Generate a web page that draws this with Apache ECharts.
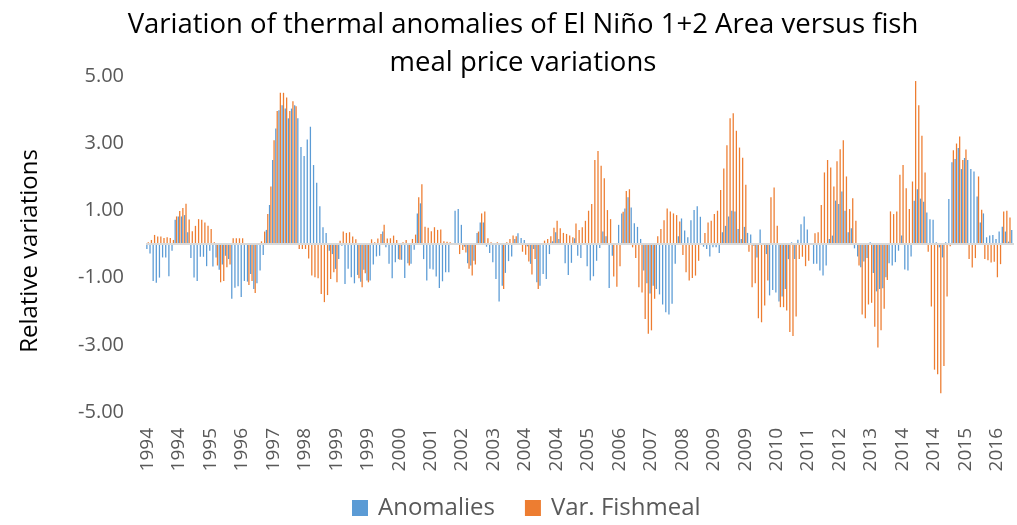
<!DOCTYPE html>
<html>
<head>
<meta charset="utf-8">
<script src="https://cdn.jsdelivr.net/npm/echarts@6/dist/echarts.min.js"></script>
<style>
  html, body { margin: 0; padding: 0; background: #fff; }
  #chart { width: 1017px; height: 525px; }
</style>
</head>
<body>
<div id="chart"></div>
<script>
// monthly data, Jan 1994 - Dec 2016
var startYear = 1994;
var monthCount = 276;

var anomalies = [
  -0.15,-0.28,-1.1,-1.15,-1.0,-0.4,-0.4,-0.96,-0.2,0.72,
  0.82,0.82,0.86,0.35,-0.42,-1.0,-1.1,-0.38,-0.38,-0.66,
  -0.2,-0.67,-0.4,-0.77,-0.61,-0.35,-0.45,-1.63,-1.3,-1.26,
  -1.58,-1.1,-1.12,-0.89,-1.34,-1.17,-0.79,-0.33,0.42,1.16,
  2.5,3.44,3.98,4.13,4.03,3.74,4.03,4.13,3.74,2.89,
  2.62,3.11,3.49,2.35,1.82,1.12,0.5,0.33,-0.2,-0.3,
  -0.74,-0.45,-0.05,-1.19,-0.74,-0.99,-1.17,-0.92,-1.12,-0.77,
  -1.09,-1.09,-0.61,-0.37,-0.35,0.37,-0.1,-0.59,-1.02,-0.54,
  -0.45,-0.47,-1.01,-0.57,-0.59,-0.17,0.91,1.21,-0.45,-1.09,
  -0.74,-0.76,-0.97,-1.31,-1.11,-0.84,-0.84,0.0,0.99,1.04,
  0.57,-0.08,-0.57,-0.64,-0.5,0.33,0.64,0.64,-0.08,-0.27,
  -0.54,-1.04,-1.71,-1.24,-0.86,-0.51,-0.37,0.15,0.32,0.18,
  0.12,-0.07,-0.59,-0.15,-1.14,-1.24,-0.89,-1.04,-0.3,0.08,
  0.35,0.15,-0.02,-0.57,-0.92,-0.56,0.17,-0.35,-0.42,0.0,
  -0.66,-1.09,-0.96,-0.5,-0.12,0.37,0.23,-1.31,-0.35,-0.02,
  0.57,0.91,1.06,1.39,1.09,0.62,0.51,0.15,-0.79,-1.17,
  -1.47,-1.24,-1.34,-1.5,-1.8,-2.03,-2.1,-1.78,-0.59,0.23,
  0.76,0.4,0.2,0.71,1.01,1.12,0.81,-0.08,-0.15,-0.37,
  -0.1,-0.1,-0.27,0.35,0.54,0.82,0.99,0.97,0.45,0.15,
  0.51,0.33,0.28,-0.05,-0.4,0.43,0.0,-0.3,-1.53,-1.37,
  -1.44,-1.71,-1.56,-1.34,-0.45,0.05,-0.45,0.13,0.59,0.82,
  0.43,0.0,-0.59,-0.59,-0.79,-0.94,-0.64,0.15,0.25,1.29,
  1.19,1.56,0.99,0.35,0.47,-0.13,-0.37,-0.69,-0.52,-0.42,
  0.05,-0.86,-1.41,-1.34,-1.32,-0.99,-0.57,-0.64,-0.54,-0.2,
  0.25,-0.76,-0.79,-0.37,1.29,1.63,1.35,1.26,0.94,0.74,
  0.72,0.05,-0.1,-0.4,0.05,1.34,2.43,2.53,2.86,2.23,
  2.56,2.5,2.23,2.16,1.41,0.64,0.91,0.2,0.25,0.27,
  0.15,0.37,0.51,0.37,0.07,0.42
];

var fishmeal = [
  0.05,0.12,0.27,0.22,0.22,0.18,0.2,0.18,0.12,0.82,
  0.98,1.07,1.2,0.73,0.38,0.54,0.74,0.72,0.64,0.54,
  0.45,0.05,-0.64,-1.14,-1.1,-0.69,-0.61,0.17,0.17,0.17,
  0.17,0.0,-1.22,-1.1,-1.46,0.0,0.08,0.37,0.89,1.71,
  3.09,3.96,4.5,4.5,4.36,3.96,4.25,4.1,-0.15,-0.15,
  -0.15,-0.43,-0.94,-0.99,-1.02,-1.49,-1.73,-1.52,-1.04,-0.84,
  -1.14,0.1,0.37,0.33,0.35,0.22,0.14,-1.02,-1.29,-0.87,
  -1.14,0.14,0.05,0.16,0.3,0.57,0.16,0.17,0.25,0.12,
  -0.47,0.05,0.12,-0.64,0.15,0.28,1.39,1.78,0.51,0.48,
  0.38,0.5,0.42,0.43,0.08,0.07,0.05,0.0,0.0,-0.3,
  -0.18,-0.25,-0.74,-0.94,-0.61,0.37,0.91,0.97,0.17,0.05,
  0.0,0.05,0.0,-1.34,0.05,0.15,0.25,0.23,-0.02,-0.23,
  -0.32,-0.52,-0.91,-0.45,-1.34,0.03,0.1,0.15,0.23,0.48,
  0.69,0.47,0.33,0.3,0.25,0.2,0.61,0.42,0.5,0.69,
  0.99,1.19,2.5,2.77,2.33,1.96,1.01,0.74,-0.97,-1.27,
  -0.66,0.96,1.58,1.63,-0.1,-0.42,-1.29,-1.44,-2.23,-2.67,
  -2.57,-1.63,0.23,0.45,0.71,1.06,0.97,0.91,0.86,0.67,
  -0.33,-0.84,-1.09,-1.01,-0.94,-0.5,0.0,0.33,0.64,0.69,
  0.89,0.99,1.61,2.25,2.94,3.74,3.89,3.37,2.87,2.57,
  1.76,-0.23,-1.29,-1.17,-2.21,-2.33,-1.83,-1.09,1.39,1.68,
  0.54,-1.88,-1.88,-1.98,-2.62,-2.74,-2.16,-0.45,-0.38,-0.66,
  -0.5,0.0,0.32,0.35,1.16,2.13,2.5,2.28,1.71,2.46,
  2.82,3.09,2.01,1.04,1.36,0.69,-0.64,-2.1,-2.21,-1.8,
  -1.75,-2.46,-3.08,-2.57,-1.93,-1.07,0.97,0.89,0.97,2.06,
  2.35,1.66,1.04,1.86,4.85,4.13,3.22,2.13,-0.23,-1.86,
  -3.74,-3.88,-4.44,-3.63,-1.56,-0.07,2.79,2.99,3.2,2.5,
  2.81,-0.45,-0.7,-0.42,2.01,1.02,-0.45,-0.48,-0.55,-0.53,
  -0.99,-0.6,0.97,0.99,0.79,0.0
];

// one category per month, labelled with its year
var months = [];
for (var i = 0; i < monthCount; i++) {
  months.push(String(startYear + Math.floor(i / 12)));
}

var myChart = echarts.init(document.getElementById('chart'), null, { renderer: 'canvas' });
var option = {
  animation: false,
  textStyle: { fontFamily: 'Open Sans' },
  title: {
    text: 'Variation of thermal anomalies of El Niño 1+2 Area versus fish\nmeal price variations',
    left: 518,
    textAlign: 'center',
    top: 1,
    textStyle: { fontFamily: 'Open Sans', fontSize: 27.5, fontWeight: 'normal', color: '#000', lineHeight: 38 }
  },
  legend: {
    top: 496,
    left: 352,
    padding: 0,
    itemWidth: 16,
    itemHeight: 16,
    itemGap: 30,
    icon: 'rect',
    textStyle: { fontFamily: 'Open Sans', fontSize: 24, color: '#595959', padding: [0, 0, 0, 5] },
    data: ['Anomalies', 'Var. Fishmeal']
  },
  grid: { left: 146, right: 3, top: 76, height: 336, containLabel: false },
  xAxis: {
    type: 'category',
    data: months,
    axisLine: { onZero: false, show: false },
    axisTick: { show: false },
    axisLabel: {
      interval: 9,
      rotate: 90,
      margin: 16,
      fontSize: 19,
      color: '#595959',
      fontFamily: 'Open Sans'
    }
  },
  yAxis: {
    type: 'value',
    min: -5,
    max: 5,
    interval: 2,
    name: 'Relative variations',
    nameLocation: 'middle',
    nameGap: 104,
    nameTextStyle: { fontSize: 24, color: '#000', fontFamily: 'Open Sans', padding: [0, 14, 0, 0] },
    splitLine: { show: false },
    axisLine: { show: false },
    axisTick: { show: false },
    axisLabel: {
      margin: 22,
      fontSize: 20,
      color: '#595959',
      fontFamily: 'Open Sans',
      formatter: function (v) { return v.toFixed(2); }
    }
  },
  series: [
    {
      name: 'Anomalies',
      type: 'bar',
      data: anomalies,
      barGap: '10%',
      barCategoryGap: '15%',
      itemStyle: { color: '#5b9bd5' },
      markLine: {
        silent: true,
        symbol: 'none',
        label: { show: false },
        lineStyle: { color: '#d9d9d9', width: 2, type: 'solid' },
        data: [{ yAxis: 0 }]
      }
    },
    {
      name: 'Var. Fishmeal',
      type: 'bar',
      data: fishmeal,
      barGap: '10%',
      barCategoryGap: '15%',
      itemStyle: { color: '#ed7d31' }
    }
  ]
};
myChart.setOption(option);
</script>
</body>
</html>
